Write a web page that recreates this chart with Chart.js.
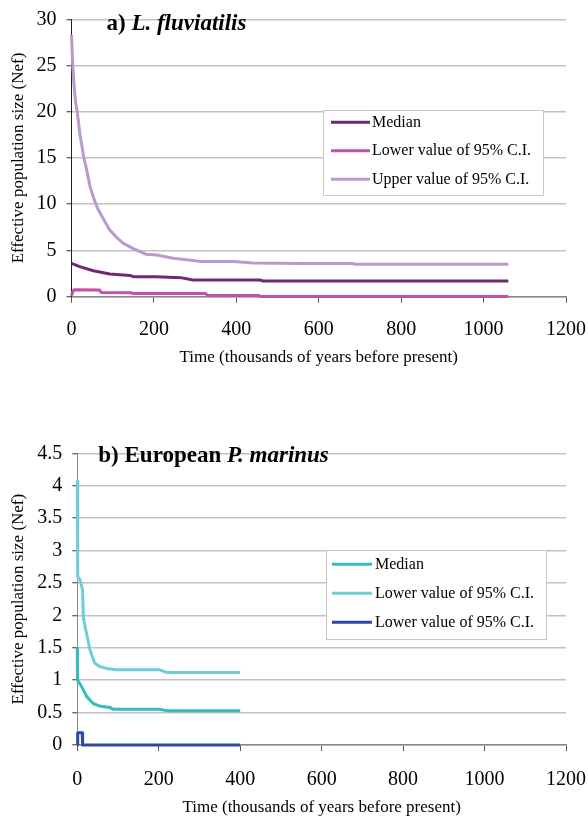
<!DOCTYPE html>
<html>
<head>
<meta charset="utf-8">
<script src="https://cdn.jsdelivr.net/npm/chart.js@4"></script>
<style>
  body { margin: 0; background: #fff; }
  #wrapA { position: absolute; left: 0; top: 0; }
  #wrapB { position: absolute; left: 0; top: 420px; }
</style>
</head>
<body>
<div id="wrapA"><canvas id="chartA" width="588" height="380"></canvas></div>
<div id="wrapB"><canvas id="chartB" width="588" height="399"></canvas></div>
<script>
// tick values
const xTicks = [0, 200, 400, 600, 800, 1000, 1200];
const aYTicks = [0, 5, 10, 15, 20, 25, 30];
const bYTicks = [0, 0.5, 1, 1.5, 2, 2.5, 3, 3.5, 4, 4.5];

// a) L. fluviatilis, pairs of [time (ky BP), Nef]
const aMedian = [[0, 3.6], [20, 3.25], [53, 2.8], [93, 2.45], [142, 2.3], [150, 2.17], [206, 2.17],
  [265, 2.06], [295, 1.8], [457, 1.8], [465, 1.7], [1060, 1.7]];
const aLower = [[0, 0.15], [5, 0.7], [8, 0.75], [68, 0.72], [72, 0.45], [145, 0.42], [150, 0.35],
  [325, 0.35], [330, 0.15], [455, 0.12], [460, 0.02], [1060, 0.02]];
const aUpper = [[0, 28.3], [3, 25], [6, 23], [10, 21], [14, 20], [20, 17.7], [30, 15], [35, 14.1],
  [45, 11.9], [55, 10.5], [65, 9.4], [80, 8.2], [93, 7.2], [110, 6.4], [125, 5.8], [150, 5.2],
  [180, 4.6], [207, 4.5], [247, 4.15], [300, 3.9], [312, 3.8], [392, 3.8], [441, 3.65],
  [554, 3.6], [680, 3.6], [690, 3.5], [1060, 3.5]];
const aLabels = ['Median', 'Lower value of 95% C.I.', 'Upper value of 95% C.I.'];

// b) European P. marinus
const bMedian = [[0, 1.5], [0.5, 1.0], [3, 0.98], [10.6, 0.9], [22.8, 0.75], [39, 0.64], [55, 0.6],
  [80, 0.58], [88, 0.55], [202, 0.55], [219, 0.53], [400, 0.53]];
const bUpper = [[0, 4.08], [1, 2.6], [6.5, 2.55], [13, 2.39], [14.7, 1.98], [20, 1.8], [24.5, 1.67],
  [31, 1.47], [37, 1.36], [43, 1.26], [55, 1.21], [72, 1.18], [96, 1.16], [202, 1.16],
  [219, 1.12], [400, 1.12]];
const bLower = [[0, 0], [1, 0.19], [12, 0.19], [13, 0], [400, 0]];
const bLabels = ['Median', 'Lower value of 95% C.I.', 'Lower value of 95% C.I.'];

const serif = 'Liberation Serif';
const pts = arr => arr.map(p => ({x: p[0], y: p[1]}));

// legend drawn as a bordered box inside the plot area
const boxLegend = {
  id: 'boxLegend',
  afterDraw(chart, args, o) {
    const ctx = chart.ctx;
    const a = chart.chartArea;
    const x = a.left + o.dx, y = a.top + o.dy;
    ctx.save();
    ctx.fillStyle = '#fff';
    ctx.fillRect(x, y, o.w, o.h);
    ctx.strokeStyle = '#c8c8c8';
    ctx.lineWidth = 1;
    ctx.strokeRect(Math.round(x) + 0.5, Math.round(y) + 0.5, o.w, o.h);
    ctx.font = '16px "' + serif + '"';
    ctx.textBaseline = 'middle';
    chart.data.datasets.forEach((ds, i) => {
      const ry = y + o.first + i * o.gap;
      ctx.strokeStyle = ds.borderColor;
      ctx.lineWidth = 3;
      ctx.beginPath();
      ctx.moveTo(x + o.s0, ry);
      ctx.lineTo(x + o.s1, ry);
      ctx.stroke();
      ctx.fillStyle = '#000';
      ctx.fillText(ds.label, x + o.tx, ry);
    });
    ctx.restore();
  }
};

// title with a mix of bold and bold italic
const richTitle = {
  id: 'richTitle',
  afterDraw(chart, args, o) {
    const ctx = chart.ctx;
    const a = chart.chartArea;
    let x = a.left + o.dx;
    const y = a.top + o.dy;
    ctx.save();
    ctx.fillStyle = '#000';
    ctx.textBaseline = 'alphabetic';
    o.parts.forEach(p => {
      ctx.font = p.style + ' 23px "' + serif + '"';
      ctx.fillText(p.text, x, y);
      x += ctx.measureText(p.text).width;
    });
    ctx.restore();
  }
};

function line(label, data, color) {
  return {
    label: label, data: pts(data), showLine: true, borderColor: color, backgroundColor: color,
    borderWidth: 3, pointRadius: 0, borderJoinStyle: 'round', clip: false
  };
}

function scales(yTicks, yMax, xHeight, yWidth, xTickPad, xTitlePad, yBorder) {
  return {
    x: {
      type: 'linear', min: 0, max: 1200,
      afterBuildTicks: s => { s.ticks = xTicks.map(v => ({value: v})); },
      afterFit: s => { s.height = xHeight; s.paddingLeft = 0; s.paddingRight = 0; },
      grid: { drawOnChartArea: false, drawTicks: true, tickLength: 6, tickColor: '#555', tickWidth: 1 },
      border: { color: '#888', width: 1.5 },
      ticks: { font: {family: serif, size: 20}, color: '#000', padding: xTickPad, maxRotation: 0,
        callback: v => String(v) },
      title: { display: true, text: 'Time (thousands of years before present)',
        font: {family: serif, size: 17}, color: '#000', padding: {top: 0, bottom: xTitlePad} }
    },
    y: {
      type: 'linear', min: 0, max: yMax,
      afterBuildTicks: s => { s.ticks = yTicks.map(v => ({value: v})); },
      afterFit: s => { s.width = yWidth; s.paddingTop = 0; s.paddingBottom = 0; },
      grid: { color: '#c2c2c2', lineWidth: 1.5, drawTicks: true, tickLength: 5, tickColor: '#333', tickWidth: 1 },
      border: { color: yBorder, width: 1 },
      ticks: { font: {family: serif, size: 20}, color: '#000', padding: 10, callback: v => String(v) },
      title: { display: true, text: 'Effective population size (Nef)',
        font: {family: serif, size: 17}, color: '#000', padding: {top: 8, bottom: 0} }
    }
  };
}

new Chart(document.getElementById('chartA'), {
  type: 'scatter',
  data: {
    datasets: [
      line(aLabels[0], aMedian, 'rgb(115,40,115)'),
      line(aLabels[1], aLower, 'rgb(192,80,168)'),
      line(aLabels[2], aUpper, 'rgb(184,154,204)')
    ]
  },
  options: {
    responsive: false,
    animation: false,
    layout: { padding: {top: 19.3, right: 22, left: 0, bottom: 0} },
    scales: scales(aYTicks, 30, 83.3, 71.5, 15, 11.8, '#222'),
    plugins: {
      legend: { display: false },
      tooltip: { enabled: false },
      boxLegend: { dx: 251.5, dy: 91, w: 220, h: 85, first: 12, gap: 28.5, s0: 8, s1: 47, tx: 49 },
      richTitle: { dx: 35, dy: 11, parts: [
        {text: 'a) ', style: 'bold'},
        {text: 'L. fluviatilis', style: 'italic bold'}
      ] }
    }
  },
  plugins: [boxLegend, richTitle]
});

new Chart(document.getElementById('chartB'), {
  type: 'scatter',
  data: {
    datasets: [
      line(bLabels[0], bMedian, 'rgb(52,188,190)'),
      line(bLabels[1], bUpper, 'rgb(112,204,214)'),
      line(bLabels[2], bLower, 'rgb(44,72,160)')
    ]
  },
  options: {
    responsive: false,
    animation: false,
    layout: { padding: {top: 33.3, right: 22, left: 0, bottom: 0} },
    scales: scales(bYTicks, 4.5, 74, 77.3, 17, 0.8, '#888'),
    plugins: {
      legend: { display: false },
      tooltip: { enabled: false },
      boxLegend: { dx: 248.7, dy: 97, w: 220, h: 89, first: 14, gap: 29, s0: 6, s1: 46, tx: 49 },
      richTitle: { dx: 21, dy: 9, parts: [
        {text: 'b) European ', style: 'bold'},
        {text: 'P. marinus', style: 'italic bold'}
      ] }
    }
  },
  plugins: [boxLegend, richTitle]
});
</script>
</body>
</html>
